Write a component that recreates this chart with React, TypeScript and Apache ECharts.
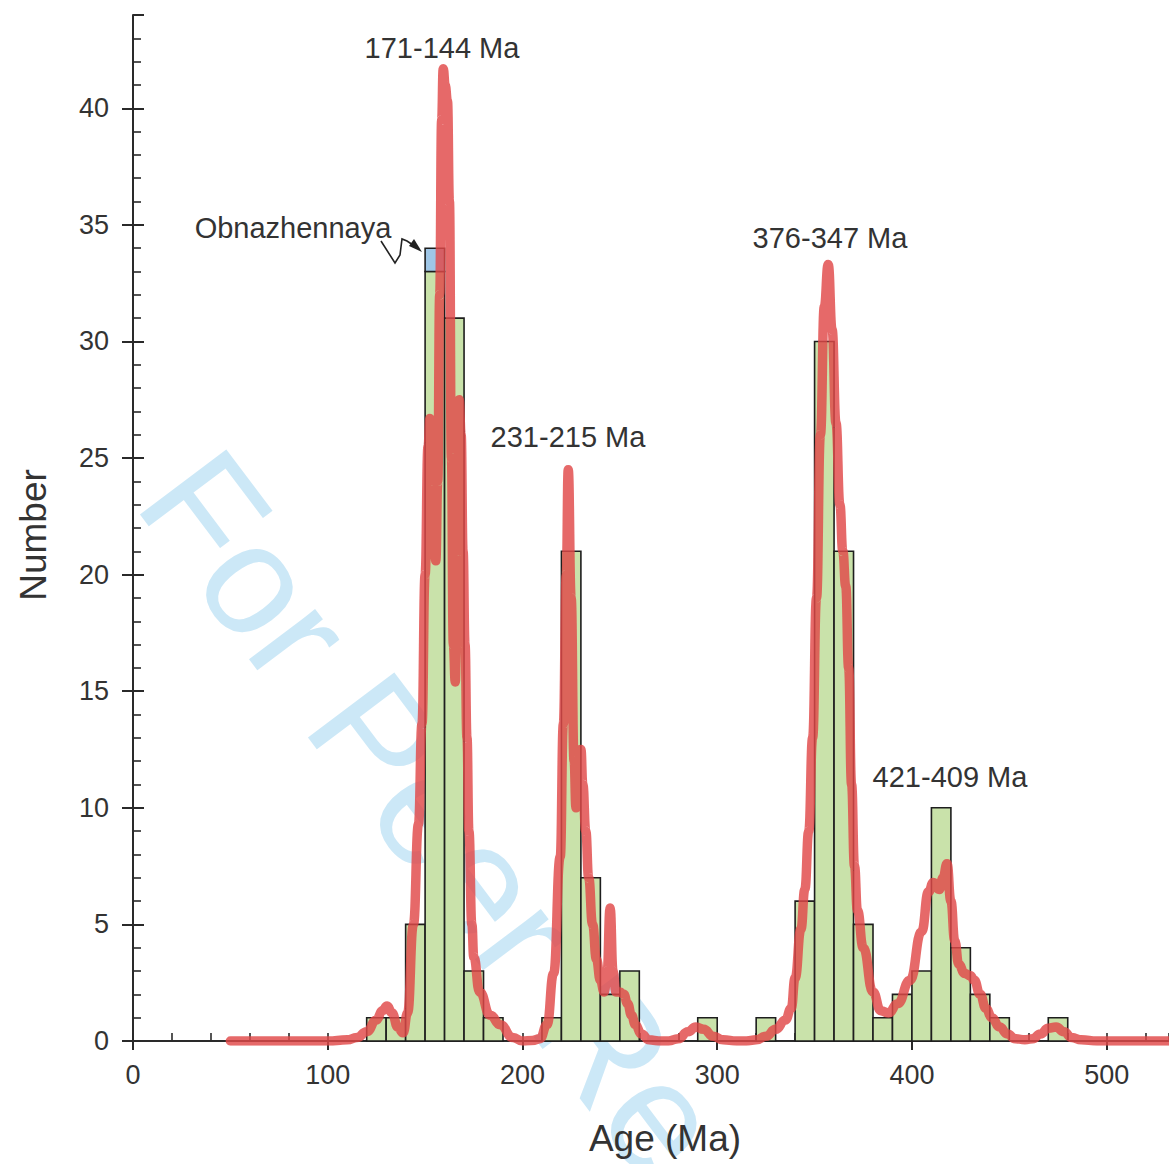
import React, { useEffect, useRef } from "react";
import * as echarts from "echarts";

// Histogram bins (10 Ma wide): start age and count
const binStarts = [120, 130, 140, 150, 160, 170, 180, 210, 220, 230, 240, 250, 290, 320, 340, 350, 360, 370, 380, 390, 400, 410, 420, 430, 440, 470];
const binCounts = [1, 1, 5, 33, 31, 3, 1, 1, 21, 7, 2, 3, 1, 1, 6, 30, 21, 5, 1, 2, 3, 10, 4, 2, 1, 1];
const binWidth = 10;
// Obnazhennaya sample stacked on the 150-160 bin
const obnStart = 150;
const obnBase = 33;
const obnCount = 1;

// Probability density curve (age, value)
const kdeAges = [50, 60, 70, 80, 90, 100, 110, 115, 120, 125, 128, 130.5, 133, 136, 138.7, 141, 144, 146.6, 148.4, 150, 151.5, 152.5, 154, 155.5, 156.5, 157.5, 158.5, 159.3, 160.3, 161.5, 162.5, 163.5, 164.5, 165.5, 166.5, 167.5, 168.5, 169.5, 170.5, 171.5, 172.5, 174, 175, 178, 183.5, 188.5, 195, 200, 205, 209, 212.6, 216, 219.4, 221, 222.5, 223.5, 225, 226.5, 227.5, 229, 230, 231, 232.5, 234, 236, 238, 240, 242, 243.5, 245, 246.5, 248, 250, 252, 254, 256, 258, 261, 265, 270, 275, 280, 285, 289, 293, 298, 303, 310, 315, 320, 325, 330, 335, 338, 340, 343, 345, 347, 349, 351, 353, 355, 357, 359, 361, 363, 364.5, 366, 367.5, 369, 370.5, 372, 375, 380, 384, 388, 392.6, 399, 405, 408.5, 411, 414, 416, 418, 420, 422, 424, 427, 430, 432, 435, 438, 441, 445, 449, 453, 458, 462, 466, 470, 474, 478, 482, 487, 495, 510, 540];
const kdeValues = [0, 0, 0, 0, 0, 0, 0.05, 0.15, 0.4, 0.9, 1.3, 1.5, 1.2, 0.6, 0.35, 1.2, 5.0, 9.3, 13.6, 20, 25.5, 26.7, 24, 20.6, 24, 32, 39.5, 41.7, 41, 40.3, 36, 25, 17, 15.4, 21, 27.5, 26, 21, 17, 13, 9, 5, 3.6, 2.1, 1.1, 0.7, 0.15, 0, 0.02, 0.1, 0.7, 2.9, 7.9, 13.6, 20, 24.5, 19, 12, 10, 11.5, 12.5, 11, 9, 7, 5, 3.5, 2.6, 2.1, 3, 5.7, 3, 2.1, 2.1, 2.0, 1.6, 1.1, 0.7, 0.3, 0.05, 0, 0, 0.1, 0.4, 0.6, 0.5, 0.2, 0.05, 0, 0, 0.05, 0.2, 0.5, 0.9, 1.4, 2.7, 4.8, 6.5, 9, 13, 19, 26, 31.5, 33.3, 30.5, 26.5, 23, 21, 19.5, 16, 11, 7.5, 5.6, 4.0, 2.1, 1.3, 1.2, 1.6, 2.6, 4.7, 6.4, 6.8, 6.5, 7.0, 7.6, 6.0, 4.3, 3.3, 2.9, 2.8, 2.6, 2.0, 1.4, 1.0, 0.6, 0.3, 0.1, 0.05, 0.1, 0.3, 0.55, 0.6, 0.4, 0.15, 0.05, 0, 0, 0];

const xTickLabels = ["0", "100", "200", "300", "400", "500"];
const yTickLabels = ["0", "5", "10", "15", "20", "25", "30", "35", "40"];

const annotations = [
  { text: "171-144 Ma", x: 442, y: 48 },
  { text: "231-215 Ma", x: 568, y: 437 },
  { text: "376-347 Ma", x: 830, y: 238 },
  { text: "421-409 Ma", x: 950, y: 777 },
  { text: "Obnazhennaya", x: 293, y: 228 },
];

const FONT = "'Liberation Sans', Arial, Helvetica, sans-serif";
const AXIS_COLOR = "#2a2a2a";
const TEXT_COLOR = "#333333";

export default function App() {
  const ref = useRef<HTMLDivElement>(null);

  useEffect(() => {
    if (!ref.current) return;
    const chart = echarts.init(ref.current, null, { renderer: "svg" });

    const greenBars = binStarts.map((s, i) => [s, s + binWidth, 0, binCounts[i]]);
    const blueBars = [[obnStart, obnStart + binWidth, obnBase, obnBase + obnCount]];
    const kde = kdeAges.map((a, i) => [a, kdeValues[i]]);

    const rectRender = (fill: string) => (params: any, api: any) => {
      const x0 = api.value(0);
      const x1 = api.value(1);
      const y0 = api.value(2);
      const y1 = api.value(3);
      const p0 = api.coord([x0, y1]);
      const p1 = api.coord([x1, y0]);
      return {
        type: "rect",
        shape: { x: p0[0], y: p0[1], width: p1[0] - p0[0], height: p1[1] - p0[1] },
        style: { fill, stroke: "#1e1e1e", lineWidth: 1.6 },
      };
    };

    const xMax = 532;
    const yMax = 44;

    chart.setOption({
      animation: false,
      backgroundColor: "#ffffff",
      textStyle: { fontFamily: FONT },
      grid: { left: 133, right: 0, top: 15, bottom: 123, containLabel: false },
      xAxis: [
        {
          type: "value",
          min: 0,
          max: xMax,
          interval: 100,
          position: "bottom",
          axisLine: { show: true, lineStyle: { color: AXIS_COLOR, width: 2 } },
          axisTick: { show: true, inside: false, length: 9, lineStyle: { color: AXIS_COLOR, width: 2 } },
          axisLabel: {
            show: true,
            margin: 20,
            fontSize: 27,
            color: TEXT_COLOR,
            fontFamily: FONT,
            showMaxLabel: false,
            formatter: (v: number) => {
              const idx = Math.round(v / 100);
              return Math.abs(v - idx * 100) < 1e-6 && xTickLabels[idx] !== undefined ? xTickLabels[idx] : "";
            },
          },
          splitLine: { show: false },
        },
        {
          type: "value",
          min: 0,
          max: xMax,
          interval: 20,
          position: "bottom",
          axisLine: { show: false },
          axisTick: { show: true, inside: true, length: 8, lineStyle: { color: AXIS_COLOR, width: 1.6 } },
          axisLabel: { show: false },
          splitLine: { show: false },
        },
        {
          type: "value",
          min: 0,
          max: xMax,
          position: "top",
          axisLine: { show: true, lineStyle: { color: AXIS_COLOR, width: 2 } },
          axisTick: { show: false },
          axisLabel: { show: false },
          splitLine: { show: false },
        },
      ],
      yAxis: [
        {
          type: "value",
          min: 0,
          max: yMax,
          interval: 5,
          position: "left",
          axisLine: { show: true, lineStyle: { color: AXIS_COLOR, width: 2 } },
          axisTick: { show: true, inside: false, length: 11, lineStyle: { color: AXIS_COLOR, width: 2 } },
          axisLabel: {
            show: true,
            margin: 24,
            fontSize: 27,
            color: TEXT_COLOR,
            fontFamily: FONT,
            showMaxLabel: false,
            formatter: (v: number) => {
              const idx = Math.round(v / 5);
              return Math.abs(v - idx * 5) < 1e-6 && yTickLabels[idx] !== undefined ? yTickLabels[idx] : "";
            },
          },
          splitLine: { show: false },
        },
        {
          type: "value",
          min: 0,
          max: yMax,
          interval: 5,
          position: "left",
          axisLine: { show: false },
          axisTick: { show: true, inside: true, length: 11, lineStyle: { color: AXIS_COLOR, width: 2 } },
          axisLabel: { show: false },
          splitLine: { show: false },
        },
        {
          type: "value",
          min: 0,
          max: yMax,
          interval: 1,
          position: "left",
          axisLine: { show: false },
          axisTick: { show: true, inside: true, length: 8, lineStyle: { color: AXIS_COLOR, width: 1.6 } },
          axisLabel: { show: false },
          splitLine: { show: false },
        },
      ],
      graphic: [
        {
          type: "text",
          x: 433,
          y: 813,
          rotation: -0.925,
          z: -10,
          style: {
            text: "For Peer Re",
            fontSize: 157,
            fontFamily: FONT,
            fill: "#cce8f7",
            align: "center",
            verticalAlign: "middle",
          },
        },
        ...annotations.map((a) => ({
          type: "text",
          x: a.x,
          y: a.y,
          z: 100,
          style: {
            text: a.text,
            fontSize: 29,
            fontFamily: FONT,
            fill: TEXT_COLOR,
            align: "center",
            verticalAlign: "middle",
          },
        })),
        {
          type: "polyline",
          z: 100,
          shape: {
            points: [
              [381, 241],
              [395, 263],
              [400, 255],
              [402, 239],
              [407, 241],
              [416, 247],
            ],
          },
          style: { stroke: "#222", lineWidth: 1.6, fill: null },
        },
        {
          type: "polygon",
          z: 100,
          shape: {
            points: [
              [422, 252],
              [409, 246],
              [414, 239],
            ],
          },
          style: { fill: "#222" },
        },
        {
          type: "text",
          x: 33,
          y: 535,
          rotation: Math.PI / 2,
          z: 100,
          style: {
            text: "Number",
            fontSize: 37,
            fontFamily: FONT,
            fill: TEXT_COLOR,
            align: "center",
            verticalAlign: "middle",
          },
        },
        {
          type: "text",
          x: 665,
          y: 1138,
          z: 100,
          style: {
            text: "Age (Ma)",
            fontSize: 37,
            fontFamily: FONT,
            fill: TEXT_COLOR,
            align: "center",
            verticalAlign: "middle",
          },
        },
      ],
      series: [
        {
          type: "custom",
          name: "Histogram",
          xAxisIndex: 0,
          yAxisIndex: 0,
          renderItem: rectRender("#c9e2aa"),
          data: greenBars,
          encode: { x: [0, 1], y: [2, 3] },
          z: 2,
          silent: true,
        },
        {
          type: "custom",
          name: "Obnazhennaya",
          xAxisIndex: 0,
          yAxisIndex: 0,
          renderItem: rectRender("#9fc6e6"),
          data: blueBars,
          encode: { x: [0, 1], y: [2, 3] },
          z: 3,
          silent: true,
        },
        {
          type: "line",
          name: "PDP",
          xAxisIndex: 0,
          yAxisIndex: 0,
          data: kde,
          showSymbol: false,
          smooth: 0.5,
          smoothMonotone: "x",
          clip: true,
          lineStyle: { color: "#e04848", width: 9.5, opacity: 0.82, cap: "round", join: "round" },
          z: 5,
          silent: true,
        },
      ],
    });

    return () => chart.dispose();
  }, []);

  return (
    <div
      ref={ref}
      style={{ position: "absolute", left: 0, top: 0, width: 1169, height: 1164 }}
    />
  );
}
